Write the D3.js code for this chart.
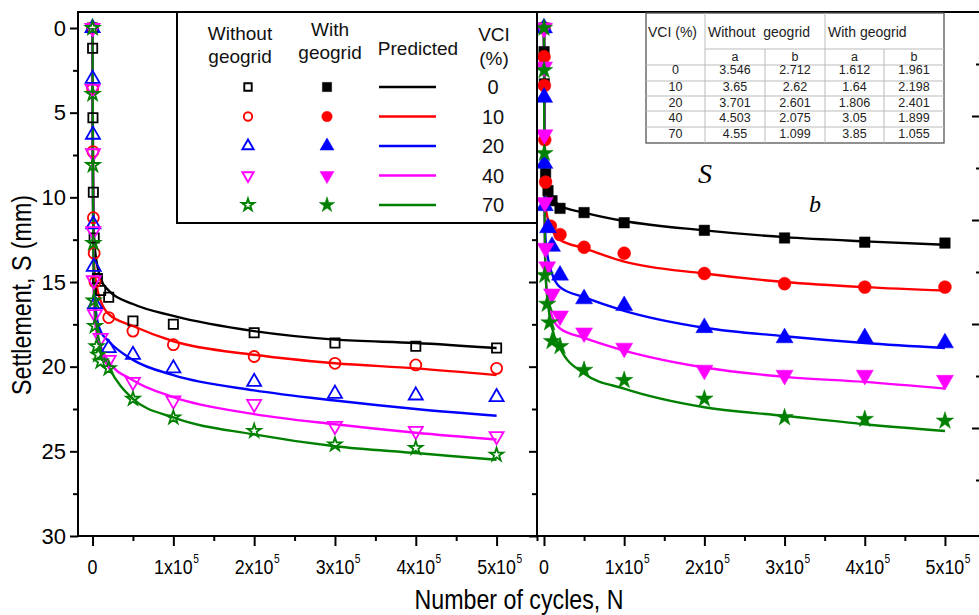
<!DOCTYPE html>
<html>
<head>
<meta charset="utf-8">
<script src="https://cdn.jsdelivr.net/npm/d3@7"></script>
<style>
  body { margin: 0; background: #fff; }
  svg { display: block; font-family: "Liberation Sans", Arial, sans-serif; }
</style>
</head>
<body>
<svg id="chart" width="979" height="615"></svg>
<script>
// VCI levels (legend rows)
const vci = [0, 10, 20, 40, 70];

// Predicted curves (same N for every curve)
const predN = [0, 500, 1000, 2000, 5000, 10000, 20000, 50000, 100000, 200000, 300000, 400000, 500000];
const predWithout = [
  [0, 8, 11, 12.5, 13.8, 14.8, 15.5, 16.3, 17.0, 17.9, 18.4, 18.6, 18.9],
  [0, 8, 12, 14, 15.2, 16.1, 16.9, 17.6, 18.5, 19.3, 19.8, 20.1, 20.5],
  [0, 9, 13, 15.5, 17.0, 17.9, 18.5, 19.6, 20.5, 21.4, 22.0, 22.5, 22.9],
  [0, 10, 14, 16.5, 18.0, 18.8, 19.7, 20.8, 21.8, 22.8, 23.4, 23.9, 24.3],
  [0, 10, 13, 15.5, 17.5, 18.9, 20.0, 21.9, 23.0, 24.0, 24.7, 25.1, 25.5]
];
const predWith = [
  [0, 5, 7.5, 8.6, 9.3, 10.0, 10.5, 10.9, 11.4, 11.95, 12.35, 12.6, 12.8],
  [0, 6, 9, 10.5, 11.3, 11.9, 12.5, 13.0, 13.8, 14.5, 15.0, 15.3, 15.5],
  [0, 7, 10.5, 12.5, 13.6, 14.5, 15.3, 15.9, 16.7, 17.7, 18.2, 18.6, 18.9],
  [0, 8, 12, 14.5, 16.0, 17.0, 17.75, 18.3, 19.05, 20.05, 20.6, 20.9, 21.3],
  [0, 8, 12, 14.5, 16.3, 17.7, 18.9, 20.4, 21.3, 22.4, 22.9, 23.4, 23.8]
];

// Measured settlement without geogrid (open markers)
const obsWithoutN = [
  [0, 100, 500, 1000, 2000, 6000, 10000, 20000, 50000, 100000, 200000, 300000, 400000, 500000],
  [0, 100, 500, 1000, 2000, 3000, 20000, 50000, 100000, 200000, 300000, 400000, 500000],
  [0, 100, 500, 1000, 1500, 3000, 20000, 50000, 100000, 200000, 300000, 400000, 500000],
  [0, 100, 500, 1000, 1500, 3000, 10000, 20000, 50000, 100000, 200000, 300000, 400000, 500000],
  [0, 100, 500, 1000, 1500, 3000, 5000, 7000, 10000, 20000, 50000, 100000, 200000, 300000, 400000, 500000]
];
const obsWithoutS = [
  [0, 1.2, 5.3, 9.7, 12.4, 14.8, 15.5, 15.9, 17.3, 17.5, 18.0, 18.6, 18.8, 18.9],
  [0, 3.6, 7.3, 11.2, 13.3, 15.0, 17.1, 17.9, 18.7, 19.4, 19.8, 19.9, 20.1],
  [0, 3.0, 6.3, 11.6, 14.1, 16.3, 18.9, 19.3, 20.1, 20.9, 21.6, 21.7, 21.8],
  [0, 3.6, 7.4, 12.0, 14.9, 16.9, 18.3, 19.6, 20.9, 22.0, 22.2, 23.5, 23.8, 24.1],
  [0, 3.9, 8.1, 12.7, 16.1, 17.6, 18.8, 19.3, 19.7, 20.1, 21.9, 23.0, 23.8, 24.6, 24.8, 25.2]
];

// Measured settlement with geogrid (filled markers)
const obsWithN = [
  [0, 100, 500, 2000, 5000, 10000, 20000, 50000, 100000, 200000, 300000, 400000, 500000],
  [0, 100, 500, 1000, 2000, 8000, 20000, 50000, 100000, 200000, 300000, 400000, 500000],
  [0, 200, 500, 1000, 5000, 10000, 20000, 50000, 100000, 200000, 300000, 400000, 500000],
  [0, 100, 500, 1000, 2000, 4000, 10000, 20000, 50000, 100000, 200000, 300000, 400000, 500000],
  [0, 100, 500, 1000, 4000, 7000, 10000, 20000, 50000, 100000, 200000, 300000, 400000, 500000]
];
const obsWithS = [
  [0, 1.4, 3.3, 8.6, 9.6, 10.2, 10.65, 10.9, 11.5, 11.95, 12.4, 12.65, 12.7],
  [0, 1.7, 3.4, 6.6, 9.1, 11.7, 12.2, 12.95, 13.3, 14.5, 15.1, 15.3, 15.3],
  [0, 4.1, 8.0, 10.5, 11.8, 12.9, 14.6, 16.0, 16.4, 17.7, 18.3, 18.3, 18.6],
  [0, 2.3, 6.3, 10.3, 13.0, 14.1, 15.7, 17.0, 18.0, 18.9, 20.2, 20.5, 20.5, 20.8],
  [0, 2.5, 7.4, 14.6, 16.3, 17.4, 18.5, 18.8, 20.2, 20.8, 21.9, 23.0, 23.1, 23.2]
];

// Fitted parameters table
const tableVci = ['0', '10', '20', '40', '70'];
const tableAWithout = ['3.546', '3.65', '3.701', '4.503', '4.55'];
const tableBWithout = ['2.712', '2.62', '2.601', '2.075', '1.099'];
const tableAWith = ['1.612', '1.64', '1.806', '3.05', '3.85'];
const tableBWith = ['1.961', '2.198', '2.401', '1.899', '1.055'];

const yTicks = [0, 5, 10, 15, 20, 25, 30];
const xTicks = [0, 100000, 200000, 300000, 400000, 500000];

// styles
const colors = ['#000000', '#ff0000', '#0000ff', '#ff00ff', '#008000'];
const symbols = [d3.symbolSquare, d3.symbolCircle, d3.symbolTriangle, d3.symbolTriangle, d3.symbolStar];
const flipped = [false, false, false, true, false];

const svg = d3.select('#chart');

const y = d3.scaleLinear().domain([0, 30]).range([28, 536]);
const xL = d3.scaleLinear().domain([-18000, 550000]).range([78, 537]);
const xR = d3.scaleLinear().domain([-8700, 543700]).range([537, 980]);
// ticks of the next (cut off) panel at the right edge
const yNext = d3.scaleLinear().domain([0, 25]).range([12, 532]);

const label = (g, x, yy, txt, size, anchor, sx) => g.append('text')
  .attr('transform', `translate(${x},${yy}) scale(${sx},1)`)
  .attr('text-anchor', anchor)
  .attr('font-size', size)
  .text(txt);

const drawPanel = (x, predS, obsN, obsS, filled, clipId, withLabels) => {
  const [x0, x1] = x.range();
  svg.append('clipPath').attr('id', clipId)
    .append('rect').attr('x', x0).attr('y', 12).attr('width', x1 - x0).attr('height', 524);

  const g = svg.append('g').attr('clip-path', `url(#${clipId})`);
  const line = d3.line().x(d => x(d[0])).y(d => y(d[1])).curve(d3.curveMonotoneX);

  predS.forEach((s, i) => {
    g.append('path')
      .datum(predN.map((n, j) => [n, s[j]]))
      .attr('d', line)
      .attr('fill', 'none')
      .attr('stroke', colors[i])
      .attr('stroke-width', 2.4);
  });

  obsS.forEach((s, i) => {
    const size = filled ? [110, 130, 125, 125, 95][i] : [85, 95, 85, 85, 55][i];
    g.selectAll(null)
      .data(s.map((v, j) => [obsN[i][j], v]))
      .join('path')
      .attr('d', d3.symbol().type(symbols[i]).size(size))
      .attr('transform', d => `translate(${x(d[0])},${y(d[1])})${flipped[i] ? ' rotate(180)' : ''}`)
      .attr('fill', filled ? colors[i] : 'none')
      .attr('stroke', colors[i])
      .attr('stroke-width', filled ? 0.5 : 1.8);
  });

  // axes
  const yMajor = svg.append('g').attr('transform', `translate(${x0},0)`)
    .call(d3.axisLeft(y).tickValues(yTicks).tickSize(8).tickPadding(4).tickFormat(withLabels ? d => d : ''));
  const yMinor = svg.append('g').attr('transform', `translate(${x0},0)`)
    .call(d3.axisLeft(y).tickValues(yTicks.slice(0, -1).map(t => t + 2.5)).tickSize(5).tickFormat(''));
  const xMajor = svg.append('g').attr('transform', 'translate(0,536)')
    .call(d3.axisBottom(x).tickValues(xTicks).tickSize(10).tickFormat(''));
  const xMinor = svg.append('g').attr('transform', 'translate(0,536)')
    .call(d3.axisBottom(x).tickValues(xTicks.map(t => t + 50000)).tickSize(5).tickFormat(''));
  [yMajor, yMinor, xMajor, xMinor].forEach(a => {
    a.select('.domain').remove();
    a.selectAll('line').attr('stroke', '#000').attr('stroke-width', 2);
  });
  yMajor.selectAll('text').attr('font-size', 22).attr('font-family', null).attr('fill', '#000');

  // x tick labels with superscript exponent
  const xl = svg.append('g').attr('fill', '#000');
  xTicks.forEach(t => {
    if (t === 0) {
      label(xl, x(t), 574, '0', 21, 'middle', 0.85);
      return;
    }
    const base = label(xl, x(t), 574, `${t / 100000}x10`, 21, 'middle', 0.85);
    const w = base.node().getComputedTextLength() * 0.85;
    label(xl, x(t) + w / 2 + 0.5, 563, '5', 12, 'start', 0.85);
  });

  // frame
  svg.append('rect')
    .attr('x', x0).attr('y', 12).attr('width', x1 - x0).attr('height', 524)
    .attr('fill', 'none').attr('stroke', '#000').attr('stroke-width', 2);
};

drawPanel(xL, predWithout, obsWithoutN, obsWithoutS, false, 'clipL', true);
drawPanel(xR, predWith, obsWithN, obsWithS, true, 'clipR', false);

// cut-off neighbour axis ticks at the right edge
const nextAxis = svg.append('g').attr('transform', 'translate(980,0)')
  .call(d3.axisLeft(yNext).tickValues([5, 10, 15, 20]).tickSize(8).tickFormat(''));
const nextMinor = svg.append('g').attr('transform', 'translate(980,0)')
  .call(d3.axisLeft(yNext).tickValues([2.5, 7.5, 12.5, 17.5, 22.5]).tickSize(4).tickFormat(''));
[nextAxis, nextMinor].forEach(a => {
  a.select('.domain').remove();
  a.selectAll('line').attr('stroke', '#000').attr('stroke-width', 2);
});

// axis titles
label(svg, 519, 609, 'Number of cycles, N', 27, 'middle', 0.86).attr('fill', '#000');
svg.append('text')
  .attr('transform', 'translate(31,295) rotate(-90) scale(0.86,1)')
  .attr('text-anchor', 'middle')
  .attr('font-size', 27)
  .text('Settlement, S (mm)');

// legend box
const leg = svg.append('g').attr('fill', '#111');
leg.append('rect')
  .attr('x', 177).attr('y', 12).attr('width', 360).attr('height', 211)
  .attr('fill', '#fff').attr('stroke', '#000').attr('stroke-width', 2);
label(leg, 240, 40, 'Without', 19, 'middle', 1);
label(leg, 240, 63, 'geogrid', 19, 'middle', 1);
label(leg, 330, 36, 'With', 19, 'middle', 1);
label(leg, 330, 59, 'geogrid', 19, 'middle', 1);
label(leg, 418, 55, 'Predicted', 19, 'middle', 1);
label(leg, 494, 41, 'VCI', 19, 'middle', 1);
label(leg, 494, 65, '(%)', 19, 'middle', 1);

const rowY = d3.scaleLinear().domain([0, 4]).range([87, 205]);
vci.forEach((v, i) => {
  const cy = rowY(i);
  const rot = flipped[i] ? ' rotate(180)' : '';
  leg.append('path')
    .attr('d', d3.symbol().type(symbols[i]).size(i === 4 ? 45 : 55))
    .attr('transform', `translate(248,${cy})${rot}`)
    .attr('fill', 'none').attr('stroke', colors[i]).attr('stroke-width', 1.9);
  leg.append('path')
    .attr('d', d3.symbol().type(symbols[i]).size(i === 4 ? 75 : 85))
    .attr('transform', `translate(327,${cy})${rot}`)
    .attr('fill', colors[i]).attr('stroke', colors[i]).attr('stroke-width', 0.5);
  leg.append('line')
    .attr('x1', 379).attr('x2', 436).attr('y1', cy).attr('y2', cy)
    .attr('stroke', colors[i]).attr('stroke-width', 2.4);
  label(leg, 493, cy + 7, String(v), 20, 'middle', 1);
});

// parameter table
const tb = svg.append('g').attr('font-size', 12.5).attr('fill', '#222');
const colX = [646, 705, 765, 825, 884, 944];
const rowLines = [49, 65, 81, 96, 111, 127];
tb.append('rect')
  .attr('x', colX[0]).attr('y', 13).attr('width', colX[5] - colX[0]).attr('height', 130)
  .attr('fill', '#fff').attr('stroke', '#555').attr('stroke-width', 1.3);
rowLines.forEach((ly, k) => {
  tb.append('line')
    .attr('x1', k === 0 ? colX[1] : colX[0]).attr('x2', colX[5])
    .attr('y1', ly).attr('y2', ly)
    .attr('stroke', '#bbb').attr('stroke-width', 1);
});
[colX[1], colX[3]].forEach(cx => tb.append('line')
  .attr('x1', cx).attr('x2', cx).attr('y1', 13).attr('y2', 143)
  .attr('stroke', '#bbb').attr('stroke-width', 1));
[colX[2], colX[4]].forEach(cx => tb.append('line')
  .attr('x1', cx).attr('x2', cx).attr('y1', 49).attr('y2', 143)
  .attr('stroke', '#bbb').attr('stroke-width', 1));
label(tb, 648, 37, 'VCI (%)', 14, 'start', 1);
label(tb, 708, 37, 'Without  geogrid', 14, 'start', 1).style('white-space', 'pre');
label(tb, 828, 37, 'With geogrid', 14, 'start', 1);
const colCenter = i => (colX[i] + colX[i + 1]) / 2;
['a', 'b', 'a', 'b'].forEach((t, i) => label(tb, colCenter(i + 1), 61, t, 12.5, 'middle', 1));
const dataRowY = [74, 91, 107, 122, 138];
[tableVci, tableAWithout, tableBWithout, tableAWith, tableBWith].forEach((col, c) => {
  col.forEach((t, r) => label(tb, colCenter(c), dataRowY[r], t, 12.5, 'middle', 1));
});

// leftover fragments of an overlaid equation
const eq = svg.append('g').attr('font-family', '"Liberation Serif", serif').attr('font-style', 'italic');
label(eq, 705, 183, 'S', 28, 'middle', 1);
label(eq, 815, 212, 'b', 24, 'middle', 1);
</script>
</body>
</html>
